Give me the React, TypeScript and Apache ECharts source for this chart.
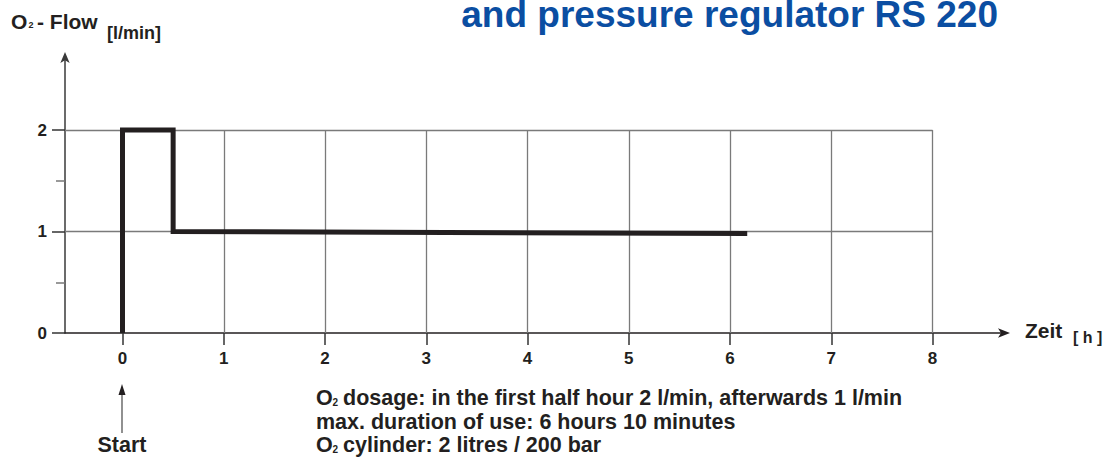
import React, { useEffect, useRef } from "react";
import * as echarts from "echarts";

// ---- data ----
const X_TICKS = [0, 1, 2, 3, 4, 5, 6, 7, 8];
const Y_TICKS = [0, 1, 2];
const Y_MINOR_TICKS = [0.5, 1.5];
const FLOW_TIME = [0, 0, 0.5, 0.5, 6.17];
const FLOW_VALUE = [0, 2, 2, 1, 0.98];
const X_MIN = -0.568;
const X_MAX = 8.706;
const X_GRID_END = 8;
const Y_MIN = 0;
const Y_MAX = 2.72;
const Y_GRID_END = 2;

const TITLE = "and pressure regulator RS 220";
const NOTE_1 = "dosage: in the first half hour 2 l/min, afterwards 1 l/min";
const NOTE_2 = "max. duration of use: 6 hours 10 minutes";
const NOTE_3 = "cylinder: 2 litres / 200 bar";

const FONT = "'Liberation Sans', Arial, Helvetica, sans-serif";
const INK = "#231f20";

export default function App() {
  const ref = useRef<HTMLDivElement>(null);

  useEffect(() => {
    if (!ref.current) return;
    const chart = echarts.init(ref.current, undefined, { renderer: "svg" });

    const gridLines: any[] = [
      ...X_TICKS.slice(1).map((x) => [{ coord: [x, Y_MIN] }, { coord: [x, Y_GRID_END] }]),
      ...Y_TICKS.slice(1).map((y) => [{ coord: [X_MIN, y] }, { coord: [X_GRID_END, y] }]),
    ];

    const txt = (text: string, x: number, y: number, size: number, extra: any = {}) => ({
      type: "text",
      silent: true,
      style: {
        text,
        x,
        y,
        fill: extra.fill || INK,
        font: `bold ${size}px ${FONT}`,
        textAlign: extra.align || "left",
        textVerticalAlign: "middle",
      },
    });

    const axisLabelStyle = {
      color: INK,
      fontSize: 17,
      fontWeight: "bold",
      fontFamily: FONT,
    };

    chart.setOption({
      animation: false,
      backgroundColor: "#ffffff",
      grid: { left: 65, right: 102, top: 57, bottom: 124, containLabel: false },
      xAxis: {
        type: "value",
        min: X_MIN,
        max: X_MAX,
        axisLine: {
          show: true,
          onZero: false,
          symbol: ["none", "arrow"],
          symbolSize: [7, 12],
          symbolOffset: [0, 6],
          lineStyle: { color: INK, width: 1.5 },
        },
        axisTick: {
          show: true,
          customValues: X_TICKS,
          length: 12,
          lineStyle: { color: "#333", width: 1.5 },
        },
        axisLabel: { show: true, customValues: X_TICKS, margin: 17, ...axisLabelStyle },
        splitLine: { show: false },
      },
      yAxis: [
        {
          type: "value",
          min: Y_MIN,
          max: Y_MAX,
          position: "left",
          axisLine: {
            show: true,
            onZero: false,
            symbol: ["none", "arrow"],
            symbolSize: [7, 11],
            symbolOffset: [0, 5],
            lineStyle: { color: "#3a3a3a", width: 1.5 },
          },
          axisTick: {
            show: true,
            customValues: Y_TICKS,
            length: 13,
            lineStyle: { color: "#333", width: 1.5 },
          },
          axisLabel: { show: true, customValues: Y_TICKS, margin: 18, ...axisLabelStyle },
          splitLine: { show: false },
        },
        {
          type: "value",
          min: Y_MIN,
          max: Y_MAX,
          position: "left",
          offset: 0,
          axisLine: { show: false, onZero: false },
          axisTick: {
            show: true,
            customValues: Y_MINOR_TICKS,
            length: 9,
            lineStyle: { color: "#777", width: 1.5 },
          },
          axisLabel: { show: false },
          splitLine: { show: false },
        },
      ],
      series: [
        {
          type: "line",
          z: 1,
          silent: true,
          symbol: "none",
          data: [[X_MIN, Y_MIN]],
          lineStyle: { opacity: 0 },
          markLine: {
            silent: true,
            symbol: ["none", "none"],
            label: { show: false },
            lineStyle: { color: "#7a7a7a", width: 1.3, type: "solid" },
            data: gridLines,
          },
        },
        {
          type: "line",
          z: 5,
          silent: true,
          symbol: "none",
          data: FLOW_TIME.map((t, i) => [t, FLOW_VALUE[i]]),
          lineStyle: { color: INK, width: 5, join: "miter", cap: "butt" },
        },
      ],
      graphic: [
        txt(TITLE, 998, 14, 37, { fill: "#0b4ea2", align: "right" }),
        // y-axis name
        txt("O", 11, 21, 21),
        txt("2", 28.5, 25, 9),
        txt("- Flow", 37, 21, 21),
        txt("[l/min]", 107, 32.5, 18),
        // x-axis name
        txt("Zeit", 1025, 330, 21),
        txt("[ h ]", 1073, 337, 16),
        // notes
        txt("O", 316, 398, 21.5),
        txt("2", 332.5, 402.5, 10),
        txt(NOTE_1, 343, 398, 21.5),
        txt(NOTE_2, 316, 422, 21.5),
        txt("O", 316, 445, 21.5),
        txt("2", 332.5, 449.5, 10),
        txt(NOTE_3, 343, 445, 21.5),
        // start marker
        txt("Start", 122, 445, 21.5, { align: "center" }),
        {
          type: "line",
          silent: true,
          shape: { x1: 122, y1: 433, x2: 122, y2: 392 },
          style: { stroke: "#555", lineWidth: 1.3 },
        },
        {
          type: "polygon",
          silent: true,
          shape: { points: [[122, 384], [118.5, 395], [125.5, 395]] },
          style: { fill: INK },
        },
      ],
    });

    return () => chart.dispose();
  }, []);

  return (
    <div
      ref={ref}
      style={{ position: "absolute", left: 0, top: 0, width: 1106, height: 457, background: "#fff" }}
    />
  );
}
